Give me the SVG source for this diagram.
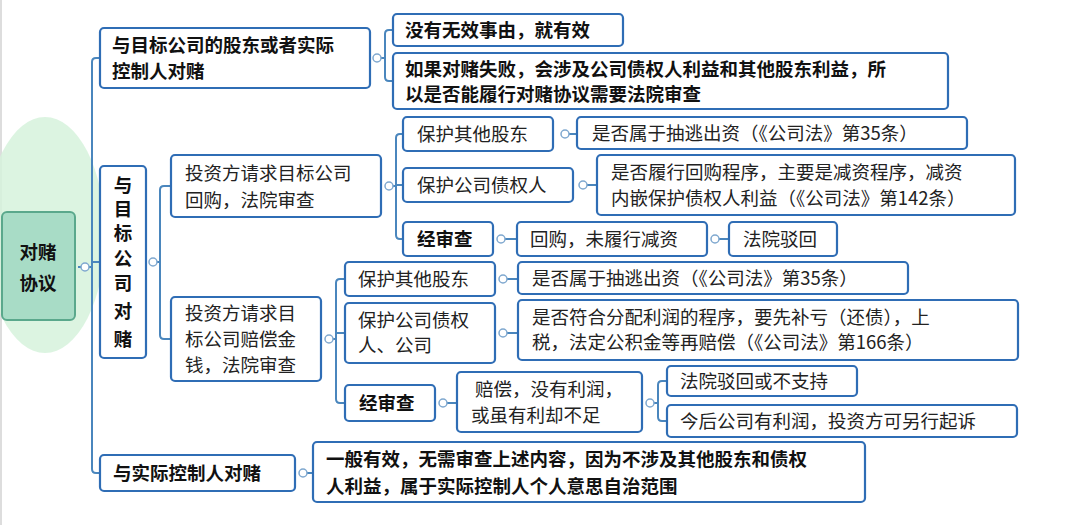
<svg xmlns="http://www.w3.org/2000/svg" width="1084" height="525" viewBox="0 0 1084 525">
<style>
.n{fill:#fff;stroke:#2f6db5;stroke-width:2.2}
.t{font-family:"Noto Sans CJK SC","Noto Sans",sans-serif;font-size:18.5px;fill:#222}
.b{font-weight:bold;fill:#111}
.c path{fill:none;stroke:#4a86bd;stroke-width:2}
.c circle{fill:#fff;stroke:#7fa8cf;stroke-width:1.5}
</style>
<rect width="1084" height="525" fill="#fff"/>
<line x1="1" y1="0" x2="1" y2="525" stroke="#bbb"/>
<ellipse cx="45" cy="235" rx="60" ry="118" fill="#d6f2dc" opacity="0.85"/>
<g class="c">
<path d="M78 267H92M100 58H96Q92 58 92 62V469Q92 473 96 473H100M92 262H100"/>
<circle cx="85" cy="267" r="4"/>
<path d="M375 58H384M393 30H389Q385 30 385 34V77Q385 81 389 81H393"/>
<circle cx="377" cy="58" r="4"/>
<path d="M150 262H160M171 186H164Q160 186 160 190V335Q160 339 164 339H171"/>
<circle cx="153" cy="262" r="4"/>
<path d="M385 186H396M403 134H400Q396 134 396 138V235Q396 239 400 239H403M396 185H403"/>
<circle cx="389" cy="186" r="4"/>
<path d="M561 134H577"/><circle cx="565" cy="134" r="4"/>
<path d="M579 185H597"/><circle cx="583" cy="185" r="4"/>
<path d="M497 239H517"/><circle cx="501" cy="239" r="4"/>
<path d="M711 239H729"/><circle cx="715" cy="239" r="4"/>
<path d="M325 339H336M345 279H340Q336 279 336 283V399Q336 403 340 403H345M336 333H345"/>
<circle cx="329" cy="339" r="4"/>
<path d="M499 279H518"/><circle cx="503" cy="279" r="4"/>
<path d="M499 333H518"/><circle cx="503" cy="333" r="4"/>
<path d="M439 403H457"/><circle cx="443" cy="403" r="4"/>
<path d="M646 403H658M667 381H662Q658 381 658 385V417Q658 421 662 421H667"/>
<circle cx="650" cy="403" r="4"/>
<path d="M299 473H313"/><circle cx="303" cy="473" r="4"/>
</g>
<g id="root"><rect x="2" y="212" width="73" height="108" rx="5" fill="#a8dcc6" stroke="#5aa88c" stroke-width="2"/><text class="t b" x="38" y="259" text-anchor="middle" font-size="22" fill="#333">对赌</text><text class="t b" x="38" y="290" text-anchor="middle" font-size="22" fill="#333">协议</text></g>
<g id="A"><rect class="n" x="100" y="28" width="270" height="60" rx="4"/><text class="t b" x="112" y="52">与目标公司的股东或者实际</text><text class="t b" x="112" y="78">控制人对赌</text></g>
<g id="A1"><rect class="n" x="393" y="14" width="230" height="32" rx="4"/><text class="t b" x="405" y="37">没有无效事由，就有效</text></g>
<g id="A2"><rect class="n" x="393" y="53" width="555" height="56" rx="4"/><text class="t b" x="405" y="76">如果对赌失败，会涉及公司债权人利益和其他股东利益，所</text><text class="t b" x="405" y="101">以是否能履行对赌协议需要法院审查</text></g>
<g id="B" class="t b" text-anchor="middle"><rect class="n" x="100" y="166" width="46" height="192" rx="4"/><text x="123" y="192">与</text><text x="123" y="216">目</text><text x="123" y="240">标</text><text x="123" y="265">公</text><text x="123" y="290">司</text><text x="123" y="318">对</text><text x="123" y="346">赌</text></g>
<g id="B1"><rect class="n" x="171" y="155" width="210" height="62" rx="4"/><text class="t" x="185" y="180">投资方请求目标公司</text><text class="t" x="185" y="207">回购，法院审查</text></g>
<g id="B1a"><rect class="n" x="403" y="117" width="150" height="34" rx="4"/><text class="t" x="417" y="141">保护其他股东</text></g>
<g id="B1a1"><rect class="n" x="577" y="117" width="390" height="32" rx="4"/><text class="t" x="592" y="140">是否属于抽逃出资（《公司法》第35条）</text></g>
<g id="B1b"><rect class="n" x="403" y="168" width="170" height="34" rx="4"/><text class="t" x="417" y="192">保护公司债权人</text></g>
<g id="B1b1"><rect class="n" x="597" y="155" width="418" height="60" rx="4"/><text class="t" x="611" y="179">是否履行回购程序，主要是减资程序，减资</text><text class="t" x="611" y="205">内嵌保护债权人利益（《公司法》第142条）</text></g>
<g id="B1c"><rect class="n" x="403" y="222" width="90" height="34" rx="4"/><text class="t b" x="417" y="246">经审查</text></g>
<g id="B1c1"><rect class="n" x="517" y="222" width="190" height="34" rx="4"/><text class="t" x="530" y="246">回购，未履行减资</text></g>
<g id="B1c2"><rect class="n" x="729" y="222" width="108" height="34" rx="4"/><text class="t" x="743" y="246">法院驳回</text></g>
<g id="B2"><rect class="n" x="171" y="297" width="150" height="84" rx="4"/><text class="t" x="185" y="320">投资方请求目</text><text class="t" x="185" y="346">标公司赔偿金</text><text class="t" x="185" y="372">钱，法院审查</text></g>
<g id="B2a"><rect class="n" x="345" y="262" width="150" height="34" rx="4"/><text class="t" x="358" y="286">保护其他股东</text></g>
<g id="B2a1"><rect class="n" x="518" y="262" width="390" height="32" rx="4"/><text class="t" x="532" y="285">是否属于抽逃出资（《公司法》第35条）</text></g>
<g id="B2b"><rect class="n" x="345" y="303" width="150" height="60" rx="4"/><text class="t" x="358" y="327">保护公司债权</text><text class="t" x="358" y="352">人、公司</text></g>
<g id="B2b1"><rect class="n" x="518" y="300" width="500" height="60" rx="4"/><text class="t" x="532" y="324">是否符合分配利润的程序，要先补亏（还债），上</text><text class="t" x="532" y="349">税，法定公积金等再赔偿（《公司法》第166条）</text></g>
<g id="B2c"><rect class="n" x="345" y="385" width="90" height="36" rx="4"/><text class="t b" x="359" y="410">经审查</text></g>
<g id="B2c1"><rect class="n" x="457" y="372" width="185" height="60" rx="4"/><text class="t" x="475" y="396">赔偿，没有利润，</text><text class="t" x="471" y="422">或虽有利却不足</text></g>
<g id="B2c2"><rect class="n" x="667" y="366" width="190" height="30" rx="4"/><text class="t" x="680" y="388">法院驳回或不支持</text></g>
<g id="B2c3"><rect class="n" x="667" y="405" width="350" height="32" rx="4"/><text class="t" x="680" y="428">今后公司有利润，投资方可另行起诉</text></g>
<g id="C"><rect class="n" x="100" y="455" width="195" height="36" rx="4"/><text class="t b" x="113" y="480">与实际控制人对赌</text></g>
<g id="C1"><rect class="n" x="313" y="442" width="552" height="60" rx="4"/><text class="t b" x="326" y="466">一般有效，无需审查上述内容，因为不涉及其他股东和债权</text><text class="t b" x="326" y="493">人利益，属于实际控制人个人意思自治范围</text></g>
</svg>
